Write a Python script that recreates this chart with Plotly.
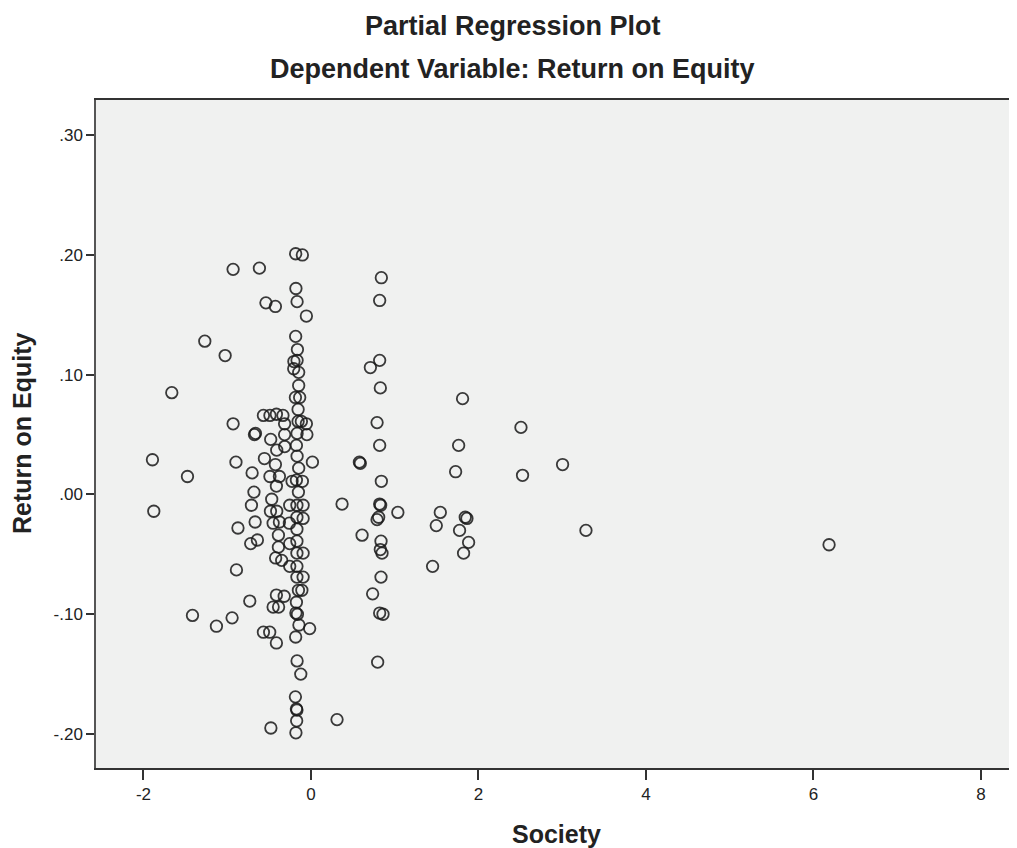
import plotly.graph_objects as go

society = [
    -0.930, -0.616, -0.183, -0.103, -0.180, -0.166, -0.055, -0.538, -0.425, -1.268,
    -1.025, -0.183, -0.162, -0.204, -0.166, -0.206, -0.147, -0.147, -0.186, -0.135,
    -0.154, -0.154, -0.115, -0.055, -0.166, -0.049, -0.174, -0.166, -0.147, 0.017,
    -0.174, -0.103, -0.226, -0.150, -0.568, -0.490, -0.413, -0.335, -0.315, -0.663,
    -0.675, -0.481, -0.315, -0.409, -0.314, -0.556, -0.425, -0.490, -0.377, -0.413,
    -0.703, -0.681, -0.896, -1.662, -0.930, -1.893, -1.475, -0.469, -1.877, -0.872,
    -0.711, -0.667, -0.720, -0.640, -0.890, -0.731, -1.415, -0.942, -1.129, -0.484,
    -0.409, -0.452, -0.377, -0.389, -0.389, -0.422, -0.350, -0.254, -0.413, -0.320,
    -0.452, -0.387, -0.568, -0.493, -0.413, -0.479, -0.254, -0.258, -0.254, -0.168,
    -0.094, -0.168, -0.094, -0.168, -0.168, -0.168, -0.094, -0.168, -0.168, -0.094,
    -0.150, -0.109, -0.174, -0.180, -0.162, -0.144, -0.016, -0.183, -0.166, -0.122,
    -0.186, -0.174, -0.168, -0.171, -0.180, 0.311, 0.371, 0.840, 0.820, 0.820,
    0.709, 0.828, 1.810, 0.789, 2.507, 0.820, 1.763, 0.578, 0.589, 3.004,
    1.727, 2.526, 0.840, 0.820, 0.832, 1.037, 0.808, 0.789, 0.610, 0.836,
    0.828, 0.848, 0.836, 0.736, 0.820, 0.860, 0.796, 1.544, 1.496, 1.842,
    1.862, 1.774, 1.882, 1.822, 1.452, 3.283, 6.186,
]

return_on_equity = [
    0.188, 0.189, 0.201, 0.200, 0.172, 0.161, 0.149, 0.160, 0.157, 0.128,
    0.116, 0.132, 0.121, 0.111, 0.112, 0.105, 0.102, 0.091, 0.081, 0.081,
    0.071, 0.061, 0.061, 0.059, 0.051, 0.050, 0.041, 0.032, 0.022, 0.027,
    0.012, 0.011, 0.011, 0.002, 0.066, 0.066, 0.067, 0.066, 0.059, 0.051,
    0.050, 0.046, 0.050, 0.037, 0.040, 0.030, 0.025, 0.015, 0.015, 0.007,
    0.018, 0.002, 0.027, 0.085, 0.059, 0.029, 0.015, -0.004, -0.014, -0.028,
    -0.009, -0.023, -0.041, -0.038, -0.063, -0.089, -0.101, -0.103, -0.110, -0.014,
    -0.014, -0.024, -0.023, -0.034, -0.044, -0.053, -0.055, -0.060, -0.084, -0.085,
    -0.094, -0.094, -0.115, -0.115, -0.124, -0.195, -0.009, -0.024, -0.041, -0.009,
    -0.009, -0.019, -0.020, -0.029, -0.039, -0.049, -0.049, -0.060, -0.069, -0.069,
    -0.080, -0.080, -0.090, -0.099, -0.100, -0.109, -0.112, -0.119, -0.139, -0.150,
    -0.169, -0.179, -0.180, -0.189, -0.199, -0.188, -0.008, 0.181, 0.162, 0.112,
    0.106, 0.089, 0.080, 0.060, 0.056, 0.041, 0.041, 0.027, 0.026, 0.025,
    0.019, 0.016, 0.011, -0.008, -0.009, -0.015, -0.019, -0.021, -0.034, -0.039,
    -0.046, -0.049, -0.069, -0.083, -0.099, -0.100, -0.140, -0.015, -0.026, -0.019,
    -0.020, -0.030, -0.040, -0.049, -0.060, -0.030, -0.042,
]

x_tick_values = [-2, 0, 2, 4, 6, 8]
x_tick_labels = ["-2", "0", "2", "4", "6", "8"]
y_tick_values = [0.30, 0.20, 0.10, 0.00, -0.10, -0.20]
y_tick_labels = [".30", ".20", ".10", ".00", "-.10", "-.20"]

title_text = "Partial Regression Plot"
subtitle_text = "Dependent Variable: Return on Equity"
x_title = "Society"
y_title = "Return on Equity"

FONT = "Liberation Sans, Arial, sans-serif"

fig = go.Figure()
fig.add_trace(go.Scatter(
    x=society, y=return_on_equity, mode="markers",
    marker=dict(symbol="circle-open", size=11.5, color="rgba(25,25,25,0.85)",
                line=dict(width=1.8, color="rgba(25,25,25,0.85)")),
    hoverinfo="x+y", showlegend=False,
))

# the page body adds an 8px margin, so the figure is sized to fit the window
fig.update_layout(
    width=1009, height=840,
    margin=dict(l=88, r=0, t=92, b=80),
    paper_bgcolor="white", plot_bgcolor="#f0f1f0",
    font=dict(family=FONT, color="#222"),
    xaxis=dict(range=[-2.567, 8.43], tickvals=x_tick_values, ticktext=x_tick_labels,
               showgrid=False, zeroline=False, showline=True, linecolor="#333",
               linewidth=1.5, mirror=True, ticks="outside", ticklen=10,
               tickwidth=1.5, tickcolor="#333", tickfont=dict(size=17, family=FONT, color="#222")),
    yaxis=dict(range=[-0.2284, 0.3294], tickvals=y_tick_values, ticktext=y_tick_labels,
               showgrid=False, zeroline=False, showline=True, linecolor="#555",
               linewidth=1.5, ticks="outside", ticklen=8, tickwidth=1.5,
               tickcolor="#333", tickfont=dict(size=17, family=FONT, color="#222")),
    annotations=[
        dict(text="<b>%s</b>" % title_text, xref="paper", yref="paper",
             x=(513 - 96) / 921, y=1.111, xanchor="center", yanchor="middle",
             showarrow=False, font=dict(size=27, family=FONT, color="#222")),
        dict(text="<b>%s</b>" % subtitle_text, xref="paper", yref="paper",
             x=(512 - 96) / 921, y=1.046, xanchor="center", yanchor="middle",
             showarrow=False, font=dict(size=27, family=FONT, color="#222")),
        dict(text="<b>%s</b>" % x_title, xref="paper", yref="paper",
             x=0.5, y=-0.0988, xanchor="center", yanchor="middle",
             showarrow=False, font=dict(size=25, family=FONT, color="#222")),
        dict(text="<b>%s</b>" % y_title, xref="paper", yref="paper",
             x=(22 - 96) / 921, y=0.5, xanchor="center", yanchor="middle",
             textangle=-90, showarrow=False, font=dict(size=25, family=FONT, color="#222")),
    ],
)

fig.write_html("out.html")
